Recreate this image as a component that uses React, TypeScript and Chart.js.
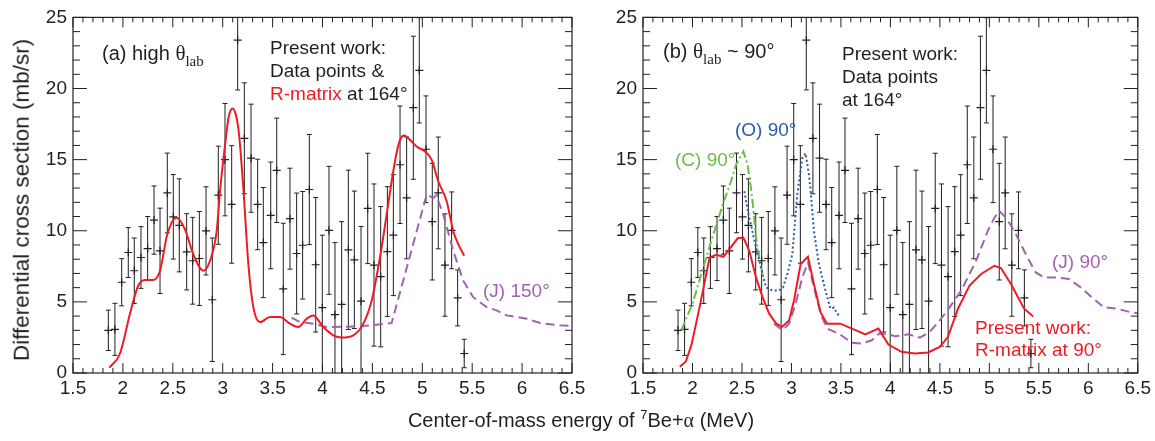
import React, { useEffect, useRef } from "react";
import { Chart, registerables } from "chart.js";

Chart.register(...registerables);

// ---------- data ----------
const energy = [1.854, 1.92, 1.988, 2.054, 2.114, 2.181, 2.248, 2.312, 2.372, 2.445, 2.505, 2.565, 2.639, 2.699, 2.766, 2.833, 2.896, 2.956, 3.023, 3.09, 3.15, 3.217, 3.284, 3.35, 3.407, 3.481, 3.541, 3.607, 3.674, 3.741, 3.801, 3.868, 3.932, 3.998, 4.065, 4.125, 4.192, 4.259, 4.319, 4.386, 4.453, 4.516, 4.583, 4.65, 4.71, 4.777, 4.843, 4.91, 4.97, 5.037, 5.1, 5.16, 5.227, 5.294, 5.354, 5.42];
const crossSection = [3.0, 3.07, 6.38, 8.47, 7.19, 8.12, 8.75, 10.75, 8.59, 12.66, 10.98, 10.38, 8.52, 7.89, 8.05, 9.99, 5.15, 12.5, 15.0, 11.85, 23.4, 16.5, 15.1, 11.85, 9.17, 11.08, 14.25, 5.91, 10.85, 8.4, 8.98, 12.9, 7.61, 4.59, 10.03, 4.1, 4.82, 8.66, 7.96, 5.05, 11.57, 7.59, 6.77, 8.54, 9.69, 14.64, 12.31, 18.65, 21.28, 15.73, 10.64, 12.66, 7.59, 10.03, 5.28, 1.37];
const crossSectionErr = [1.42, 1.83, 1.66, 1.75, 2.3, 2.17, 2.25, 2.4, 3.0, 2.8, 2.97, 3.27, 2.68, 3.05, 3.3, 3.1, 4.34, 3.45, 3.95, 4.13, 3.5, 3.9, 3.8, 3.18, 3.87, 3.75, 3.67, 4.62, 3.55, 4.25, 3.78, 3.87, 4.73, 5.1, 4.5, 5.07, 5.82, 5.6, 4.83, 5.25, 3.88, 5.7, 4.93, 4.56, 4.25, 4.13, 4.28, 5.03, 3.7, 3.75, 4.1, 3.93, 3.6, 2.7, 1.97, 1.0];

// R-matrix at 164 deg (panel a)
const rMatrix164E = [1.864, 1.971, 2.071, 2.154, 2.221, 2.305, 2.372, 2.445, 2.539, 2.622, 2.705, 2.806, 2.873, 2.94, 2.973, 3.023, 3.06, 3.1, 3.13, 3.157, 3.18, 3.207, 3.257, 3.307, 3.374, 3.474, 3.574, 3.674, 3.757, 3.842, 3.908, 4.008, 4.108, 4.192, 4.309, 4.409, 4.493, 4.576, 4.643, 4.693, 4.74, 4.777, 4.817, 4.877, 4.944, 5.027, 5.094, 5.16, 5.244, 5.31, 5.36, 5.42];
const rMatrix164Y = [0.37, 1.37, 4.17, 6.15, 6.54, 6.54, 7.19, 9.75, 10.92, 10.1, 8.36, 7.19, 7.89, 9.99, 12.78, 16.0, 18.0, 18.6, 18.2, 17.2, 15.5, 13.0, 7.66, 4.63, 3.58, 3.93, 3.93, 3.47, 3.23, 3.82, 4.05, 3.23, 2.65, 2.49, 2.65, 3.47, 5.1, 8.12, 11.15, 13.48, 15.4, 16.39, 16.69, 16.39, 15.92, 15.57, 14.99, 13.48, 12.08, 9.99, 9.06, 8.24];

// (J) 150 deg
const j150E = [3.69, 3.775, 3.908, 4.04, 4.376, 4.693, 5.044, 5.11, 5.14, 5.21, 5.31, 5.41, 5.51, 5.645, 5.745, 5.845, 6.046, 6.18, 6.38, 6.5];
const j150Y = [3.89, 3.58, 3.47, 3.23, 3.28, 3.51, 12.55, 12.31, 12.5, 11.15, 8.59, 6.49, 5.33, 4.63, 4.4, 4.05, 3.82, 3.51, 3.35, 3.3];

// R-matrix at 90 deg (panel b)
const rMatrix90E = [1.871, 1.932, 1.989, 2.072, 2.173, 2.24, 2.313, 2.373, 2.457, 2.514, 2.574, 2.642, 2.708, 2.775, 2.842, 2.903, 2.976, 3.026, 3.093, 3.167, 3.227, 3.294, 3.36, 3.495, 3.612, 3.746, 3.879, 3.98, 4.113, 4.248, 4.381, 4.499, 4.582, 4.683, 4.8, 4.917, 5.051, 5.117, 5.218, 5.352, 5.443];
const rMatrix90Y = [0.44, 0.79, 1.96, 4.63, 8.12, 8.31, 8.17, 8.71, 9.47, 9.52, 8.59, 6.72, 5.33, 4.17, 3.51, 3.23, 3.7, 5.1, 7.66, 8.17, 6.26, 4.28, 3.47, 3.47, 3.12, 2.72, 3.12, 2.0, 1.49, 1.37, 1.44, 1.84, 2.54, 4.52, 6.15, 6.96, 7.54, 7.38, 6.26, 4.52, 3.98];

// (J) 90 deg
const j90E = [2.825, 2.909, 2.976, 3.043, 3.11, 3.167, 3.227, 3.294, 3.36, 3.478, 3.612, 3.712, 3.812, 3.886, 3.98, 4.047, 4.181, 4.298, 4.398, 4.499, 4.6, 4.716, 4.866, 4.984, 5.051, 5.101, 5.168, 5.252, 5.335, 5.403, 5.469, 5.553, 5.687, 5.804, 5.921, 6.055, 6.155, 6.289, 6.423, 6.5];
const j90Y = [3.47, 3.0, 3.47, 4.87, 6.72, 7.77, 6.03, 4.17, 3.12, 2.77, 2.12, 2.07, 2.3, 2.77, 2.72, 2.58, 2.72, 2.49, 2.89, 3.7, 4.63, 5.8, 7.89, 9.99, 10.92, 11.38, 10.92, 9.99, 8.82, 7.89, 7.07, 6.72, 6.72, 6.61, 6.03, 5.21, 4.63, 4.52, 4.28, 4.2];

// (O) 90 deg
const o90E = [2.524, 2.547, 2.574, 2.642, 2.692, 2.742, 2.808, 2.876, 2.916, 2.959, 3.009, 3.059, 3.11, 3.143, 3.177, 3.194, 3.227, 3.277, 3.344, 3.394, 3.43, 3.46, 3.495];
const o90Y = [12.78, 11.85, 10.92, 8.82, 7.42, 6.03, 5.8, 5.8, 6.03, 6.96, 8.36, 12.55, 15.1, 15.45, 13.94, 12.78, 9.99, 7.66, 5.8, 4.52, 4.6, 4.2, 3.93];

// (C) 90 deg
const c90E = [1.888, 2.005, 2.105, 2.206, 2.306, 2.39, 2.44, 2.514, 2.557, 2.595, 2.62, 2.642, 2.675, 2.708];
const c90Y = [3.0, 4.98, 7.31, 9.64, 11.85, 13.48, 14.64, 15.57, 14.64, 12.8, 11.2, 9.52, 8.12, 6.96];

const xTicks = [1.5, 2, 2.5, 3, 3.5, 4, 4.5, 5, 5.5, 6, 6.5];
const xTickLabels = ["1.5", "2", "2.5", "3", "3.5", "4", "4.5", "5", "5.5", "6", "6.5"];
const yTicks = [0, 5, 10, 15, 20, 25];
const yTickLabels = ["0", "5", "10", "15", "20", "25"];

// ---------- styles ----------
const INK = "#231F20";
const RED = "#ED1C24";
const PURPLE = "#A262B0";
const BLUE = "#2A5CAA";
const GREEN = "#6ABD45";
const SANS = "'Liberation Sans', Arial, Helvetica, sans-serif";
const SERIF = "'Liberation Serif', 'Times New Roman', serif";

Chart.defaults.font.family = SANS;
Chart.defaults.color = INK;

const X_MIN = 1.5, X_MAX = 6.5, X_MINOR = 0.1, X_MAJOR = 0.5;
const Y_MIN = 0, Y_MAX = 25, Y_MINOR = 1, Y_MAJOR = 5;

const toXY = (xs: number[], ys: number[]) => xs.map((x, i) => ({ x, y: ys[i] }));

const errorBarPlugin = {
  id: "errorBars",
  beforeDatasetsDraw(chart: any) {
    const { ctx, chartArea, scales } = chart;
    const x = scales.x, y = scales.y;
    ctx.save();
    ctx.beginPath();
    ctx.rect(chartArea.left, chartArea.top, chartArea.right - chartArea.left, chartArea.bottom - chartArea.top);
    ctx.clip();
    ctx.strokeStyle = INK;
    ctx.lineWidth = 1;
    energy.forEach((e, i) => {
      const px = x.getPixelForValue(e);
      const top = y.getPixelForValue(crossSection[i] + crossSectionErr[i]);
      const bot = y.getPixelForValue(crossSection[i] - crossSectionErr[i]);
      ctx.beginPath();
      ctx.moveTo(px, top);
      ctx.lineTo(px, bot);
      ctx.moveTo(px - 2.5, top);
      ctx.lineTo(px + 2.5, top);
      ctx.moveTo(px - 2.5, bot);
      ctx.lineTo(px + 2.5, bot);
      ctx.stroke();
    });
    ctx.restore();
  },
};

const framePlugin = {
  id: "frame",
  afterDraw(chart: any) {
    const { ctx, chartArea, scales } = chart;
    const x = scales.x, y = scales.y;
    const { left, right, top, bottom } = chartArea;
    ctx.save();
    ctx.strokeStyle = INK;
    ctx.lineWidth = 1.2;
    ctx.strokeRect(left, top, right - left, bottom - top);
    ctx.lineWidth = 1;
    ctx.beginPath();
    const nx = Math.round((X_MAX - X_MIN) / X_MINOR);
    for (let k = 0; k <= nx; k++) {
      const v = X_MIN + k * X_MINOR;
      const major = Math.abs(v / X_MAJOR - Math.round(v / X_MAJOR)) < 1e-6;
      const len = major ? 10 : 5;
      const px = x.getPixelForValue(v);
      ctx.moveTo(px, bottom);
      ctx.lineTo(px, bottom - len);
      ctx.moveTo(px, top);
      ctx.lineTo(px, top + len);
    }
    const ny = Math.round((Y_MAX - Y_MIN) / Y_MINOR);
    for (let k = 0; k <= ny; k++) {
      const v = Y_MIN + k * Y_MINOR;
      const major = v % Y_MAJOR === 0;
      const len = major ? 14 : 7;
      const py = y.getPixelForValue(v);
      ctx.moveTo(left, py);
      ctx.lineTo(left + len, py);
      ctx.moveTo(right, py);
      ctx.lineTo(right - len, py);
    }
    ctx.stroke();
    ctx.restore();
  },
};

function lineSet(xs: number[], ys: number[], color: string, dash: number[], smooth = false) {
  return {
    data: toXY(xs, ys),
    showLine: true,
    pointRadius: 0,
    borderColor: color,
    backgroundColor: color,
    borderWidth: 2,
    borderDash: dash,
    fill: false,
    tension: 0,
    cubicInterpolationMode: smooth ? "monotone" : "default",
  };
}

function pointsSet() {
  return {
    data: toXY(energy, crossSection),
    showLine: false,
    pointStyle: "cross",
    pointRadius: 4,
    borderColor: INK,
    backgroundColor: INK,
    borderWidth: 1.2,
  };
}

function makeConfig(datasets: any[], yAxisWidth: number, padRight: number) {
  return {
    type: "scatter",
    data: { datasets },
    options: {
      animation: false,
      responsive: false,
      events: [],
      layout: { padding: { left: 0, right: padRight, top: 15, bottom: 0 } },
      plugins: { legend: { display: false }, tooltip: { enabled: false } },
      scales: {
        x: {
          type: "linear",
          min: X_MIN,
          max: X_MAX,
          grid: { display: false, drawTicks: false },
          border: { display: false },
          ticks: {
            autoSkip: false,
            maxRotation: 0,
            minRotation: 0,
            padding: 4,
            color: INK,
            font: { size: 19, family: SANS },
            callback: (_v: any, i: number) => xTickLabels[i],
          },
          afterBuildTicks: (axis: any) => {
            axis.ticks = xTicks.map((v) => ({ value: v }));
          },
          afterFit: (axis: any) => {
            axis.height = 68;
          },
        },
        y: {
          type: "linear",
          min: Y_MIN,
          max: Y_MAX,
          grid: { display: false, drawTicks: false },
          border: { display: false },
          ticks: {
            autoSkip: false,
            padding: 6,
            color: INK,
            font: { size: 19, family: SANS },
            callback: (_v: any, i: number) => yTickLabels[i],
          },
          afterBuildTicks: (axis: any) => {
            axis.ticks = yTicks.map((v) => ({ value: v }));
          },
          afterFit: (axis: any) => {
            axis.width = yAxisWidth;
          },
        },
      },
    },
    plugins: [errorBarPlugin, framePlugin],
  };
}

function Label(props: { x: number; base: number; size?: number; color?: string; children: any }) {
  const size = props.size ?? 19;
  return (
    <div
      style={{
        position: "absolute",
        left: props.x,
        top: props.base - 0.8465 * size,
        fontSize: size,
        lineHeight: 1,
        whiteSpace: "nowrap",
        color: props.color ?? INK,
        fontFamily: SANS,
      }}
    >
      {props.children}
    </div>
  );
}

const Theta = () => (
  <>
    <span style={{ fontFamily: SERIF, fontSize: 21 }}>θ</span>
    <span style={{ fontFamily: SERIF, fontSize: 15, position: "relative", top: 6 }}>lab</span>
  </>
);

export default function App() {
  const leftRef = useRef<HTMLCanvasElement>(null);
  const rightRef = useRef<HTMLCanvasElement>(null);

  useEffect(() => {
    const left = new Chart(
      leftRef.current as HTMLCanvasElement,
      makeConfig(
        [
          lineSet(rMatrix164E, rMatrix164Y, RED, [], true),
          lineSet(j150E, j150Y, PURPLE, [9, 5]),
          pointsSet(),
        ],
        73,
        28
      ) as any
    );
    const right = new Chart(
      rightRef.current as HTMLCanvasElement,
      makeConfig(
        [
          lineSet(rMatrix90E, rMatrix90Y, RED, []),
          lineSet(o90E, o90Y, BLUE, [2, 2.5]),
          lineSet(c90E, c90Y, GREEN, [9, 3, 2, 3]),
          lineSet(j90E, j90Y, PURPLE, [9, 5]),
          pointsSet(),
        ],
        63,
        14
      ) as any
    );
    return () => {
      left.destroy();
      right.destroy();
    };
  }, []);

  return (
    <div
      style={{
        position: "absolute",
        left: 0,
        top: 0,
        width: 1155,
        height: 441,
        background: "#fff",
        overflow: "hidden",
        fontFamily: SANS,
        color: INK,
      }}
    >
      <canvas ref={leftRef} width={600} height={441} style={{ position: "absolute", left: 0, top: 0 }} />
      <canvas ref={rightRef} width={575} height={441} style={{ position: "absolute", left: 580, top: 0 }} />

      {/* y axis title */}
      <div
        style={{
          position: "absolute",
          left: 22,
          top: 200,
          transform: "translate(-50%, -50%) rotate(-90deg)",
          fontSize: 22.5,
          lineHeight: 1,
          whiteSpace: "nowrap",
          fontFamily: SANS,
          color: INK,
        }}
      >
        Differential cross section (mb/sr)
      </div>

      {/* x axis title */}
      <div
        style={{
          position: "absolute",
          left: 0,
          width: 1162,
          top: 427 - 0.8465 * 20,
          textAlign: "center",
          fontSize: 20,
          lineHeight: 1,
          whiteSpace: "nowrap",
          fontFamily: SANS,
          color: INK,
        }}
      >
        Center-of-mass energy of <span style={{ fontSize: 13, position: "relative", top: -8 }}>7</span>Be+
        <span style={{ fontFamily: SERIF }}>α</span> (MeV)
      </div>

      {/* panel (a) annotations */}
      <Label x={102} base={60} size={20}>
        (a) high <Theta />
      </Label>
      <Label x={270} base={54}>Present work:</Label>
      <Label x={270} base={77}>Data points &amp;</Label>
      <Label x={270} base={100}>
        <span style={{ color: RED }}>R-matrix</span> at 164°
      </Label>
      <Label x={483} base={297} color={PURPLE}>(J) 150°</Label>

      {/* panel (b) annotations */}
      <Label x={663} base={58} size={20}>
        (b) <Theta /> ~ 90°
      </Label>
      <Label x={842} base={60.5}>Present work:</Label>
      <Label x={842} base={83.5}>Data points</Label>
      <Label x={842} base={106.5}>at 164°</Label>
      <Label x={735} base={136} color={BLUE}>(O) 90°</Label>
      <Label x={675} base={166} color={GREEN}>(C) 90°</Label>
      <Label x={1052} base={268} color={PURPLE}>(J) 90°</Label>
      <Label x={975} base={334} color={RED}>Present work:</Label>
      <Label x={975} base={356} color={RED}>R-matrix at 90°</Label>
    </div>
  );
}
